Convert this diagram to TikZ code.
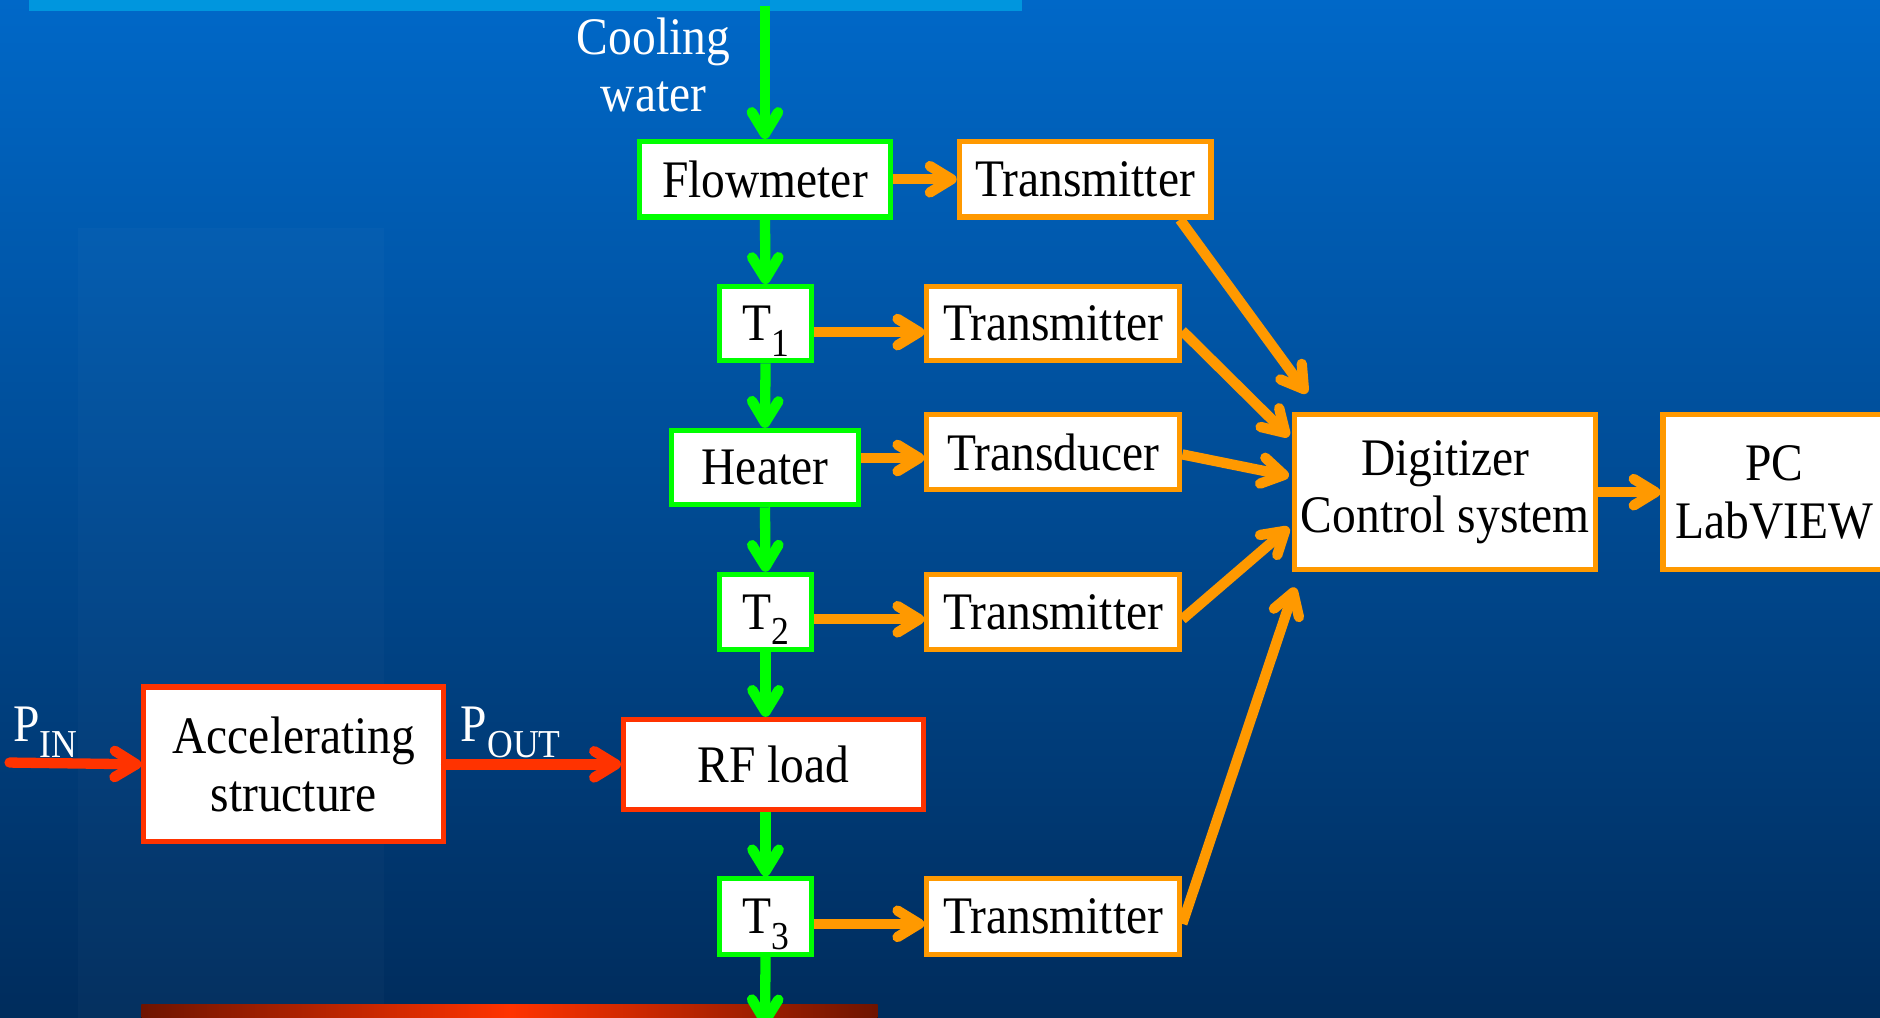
\documentclass[tikz,border=0pt]{standalone}
\usepackage{fontspec}
\setmainfont{Liberation Serif}[FakeStretch=0.9]
\usetikzlibrary{arrows.meta,calc}
\definecolor{bgtop}{RGB}{0,104,200}
\definecolor{bgbot}{RGB}{0,44,92}
\definecolor{gr}{RGB}{0,255,0}
\definecolor{og}{RGB}{255,153,0}
\definecolor{rd}{RGB}{255,51,0}
\definecolor{topbar}{RGB}{0,150,222}
\definecolor{darkbar}{RGB}{110,20,0}
\newcommand\mysub[1]{\smash{\raisebox{-6.5pt}{\fontsize{16.5}{16.5}\selectfont #1}}}
\begin{document}
\begin{tikzpicture}[x=0.5pt,y=-0.5pt,
  box/.style={draw, fill=white, line width=2.1pt, inner sep=0pt, align=center,
    font=\fontsize{22}{24}\selectfont, text=black},
  gbox/.style={box, draw=gr},
  obox/.style={box, draw=og},
  rbox/.style={box, draw=rd},
  tip/.style={-{Straight Barb[length=9pt,width=11pt,round]}},
  garrow/.style={draw=gr, line width=4.3pt, tip},
  oarrow/.style={draw=og, line width=4.3pt, tip},
  rarrow/.style={draw=rd, line width=4.3pt, line cap=round, tip},
  lbl/.style={text=white, inner sep=0pt, align=center, font=\fontsize{22}{24}\selectfont}
]
\useasboundingbox (0,0) rectangle (1568,849);
\fill[top color=bgtop, bottom color=bgbot] (0,0) rectangle (1568,849);
\fill[white, opacity=0.018] (65,190) rectangle (320,849);
\fill[topbar] (24,0) rectangle (852,9);
\fill[left color=darkbar, right color=darkbar, middle color=rd] (118,838) rectangle (732,849);

% nodes
\node[lbl] (cw) at (545,54) {Cooling\\water};
\node[gbox, minimum width=105pt, minimum height=31.5pt] (flow) at (638,149.5) {Flowmeter};
\node[obox, minimum width=105pt, minimum height=31.5pt] (tr1) at (905,149.5) {Transmitter};
\node[gbox, minimum width=38.5pt, minimum height=31pt] (t1) at (638.5,270) {T\mysub{1}};
\node[obox, minimum width=105.5pt, minimum height=31pt] (tr2) at (878.5,270) {Transmitter};
\node[gbox, minimum width=78pt, minimum height=31pt] (heat) at (638,390) {Heater};
\node[obox, minimum width=105.5pt, minimum height=31pt] (trd) at (878.5,377) {Transducer};
\node[gbox, minimum width=38.5pt, minimum height=31.5pt] (t2) at (638.5,510.5) {T\mysub{2}};
\node[obox, minimum width=105.5pt, minimum height=31.5pt] (tr3) at (878.5,510.5) {Transmitter};
\node[rbox, minimum width=125pt, minimum height=37.5pt] (rf) at (645,637.5) {RF load};
\node[gbox, minimum width=38.5pt, minimum height=31.5pt] (t3) at (638.5,764.5) {T\mysub{3}};
\node[obox, minimum width=105.5pt, minimum height=31.5pt] (tr4) at (878.5,764.5) {Transmitter};
\node[rbox, minimum width=125pt, minimum height=64.5pt] (acc) at (245,637.5) {Accelerating\\structure};
\node[obox, minimum width=125.5pt, minimum height=64.5pt] (dig) at (1205.5,410.5) {Digitizer\\Control system};
\node[obox, minimum width=100pt, minimum height=64.5pt, text width=95pt] (pc) at (1487,410.5) {\hspace*{-7pt}PC\\\hspace*{-7pt}LabVIEW};
\node[lbl] (pinl) at (38,604) {P\mysub{IN}};
\node[lbl] (poutl) at (426,604) {P\mysub{OUT}};

% green flow
\coordinate (top) at (638,5);
\coordinate (bot) at (638,856);
\draw[garrow] (top) -- (flow.north);
\draw[garrow] (flow.south) -- (t1.north);
\draw[garrow] (t1.south) -- (heat.north);
\draw[garrow] (heat.south) -- (t2.north);
\draw[garrow] (t2.south) -- (t2.south |- rf.north);
\draw[garrow] (t3.north |- rf.south) -- (t3.north);
\draw[garrow] (t3.south) -- (bot);

% orange signals
\draw[oarrow] (flow.east) -- (tr1.west);
\draw[oarrow] ([yshift=-3.5pt]t1.east) -- ([yshift=-3.5pt]t1.east -| tr2.west);
\draw[oarrow] ([yshift=4pt]heat.east) -- ([yshift=4pt]heat.east -| trd.west);
\draw[oarrow] ([yshift=-3pt]t2.east) -- ([yshift=-3pt]t2.east -| tr3.west);
\draw[oarrow] ([yshift=-3pt]t3.east) -- ([yshift=-3pt]t3.east -| tr4.west);
\draw[oarrow] (dig.east) -- (pc.west);
\coordinate (d1) at (1090,328);
\coordinate (d2) at (1075,364);
\coordinate (d3) at (1075,397);
\coordinate (d4) at (1075,440);
\coordinate (d5) at (1080,490);
\draw[oarrow] ([xshift=-14pt]tr1.south east) -- (d1);
\draw[oarrow] ([yshift=-3pt]tr2.east) -- (d2);
\draw[oarrow] ([yshift=-1pt]trd.east) -- (d3);
\draw[oarrow] ([yshift=-3pt]tr3.east) -- (d4);
\draw[oarrow] ([yshift=-3pt]tr4.east) -- (d5);

% red power
\coordinate (pin) at (8,636);
\draw[rarrow] (pin) -- (acc.west);
\draw[rarrow] (acc.east) -- (rf.west);
\end{tikzpicture}
\end{document}
